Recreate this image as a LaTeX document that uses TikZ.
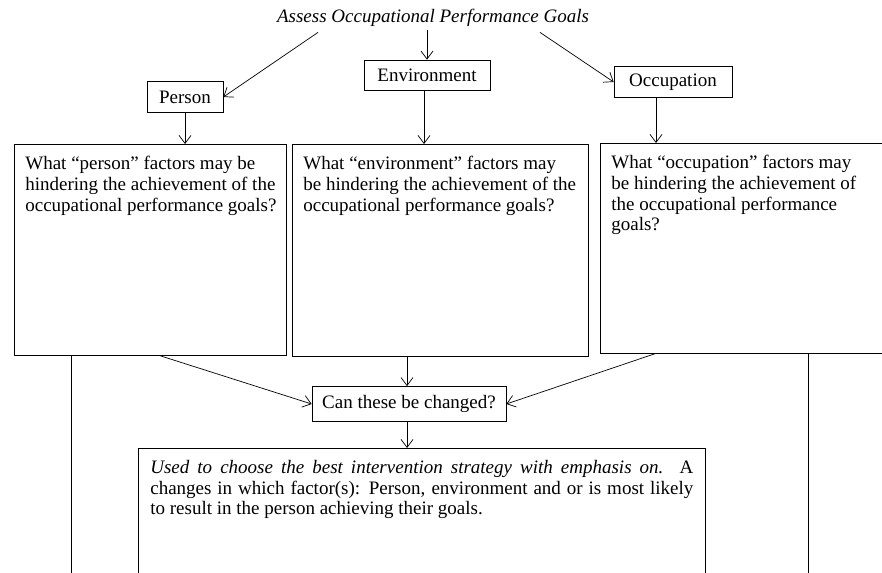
\documentclass[tikz,border=0pt]{standalone}
\usepackage{fontspec}
\setmainfont{Liberation Serif}
\usepackage{tikz}
\usetikzlibrary{positioning}
\usetikzlibrary{calc}
\usetikzlibrary{arrows.meta}

\begin{document}
\begin{tikzpicture}
  [
    x=1pt, y=-1pt,
    font=\fontsize{19}{20.7}\selectfont,
    line width=0.7pt,
    lbox/.style={
       draw=black,
       minimum height=31pt,
       inner sep=0pt
    },
    qbox/.style={
       draw=black,
       anchor=north west,
       inner sep=0pt
    },
    qtext/.style={
       anchor=north west,
       align=left,
       inner xsep=11pt,
       inner ysep=12pt
    },
    ld/.style={
       draw=black,
       -{Straight Barb[length=8pt,width=12pt,line width=0.7pt]}
    }
  ]
  \clip (0,0) rectangle (882,572);

  \node (title) at (433,18) {\itshape Assess Occupational Performance Goals};

  \node (person) at (185,97)  [lbox, minimum width=76pt]  {Person};
  \node (env)    at (427,75)  [lbox, minimum width=126pt, minimum height=30pt] {Environment};
  \node (occ)    at (673,82)  [lbox, minimum width=118pt] {Occupation};

  \node (pbox) at ( 14,144) [qbox, minimum width=272pt, minimum height=211pt] {};
  \node (ebox) at (292,144) [qbox, minimum width=296pt, minimum height=212pt] {};
  \node (obox) at (600,143) [qbox, minimum width=300pt, minimum height=210pt] {};

  \node (ptext) at (pbox.north west) [qtext]
        {What “person” factors may be\\hindering the achievement of the\\occupational performance goals?};
  \node (etext) at (ebox.north west) [qtext]
        {What “environment” factors may\\be hindering the achievement of the\\occupational performance goals?};
  \node (otext) at (obox.north west) [qtext]
        {What “occupation” factors may\\be hindering the achievement of\\the occupational performance\\goals?};

  \node (change) at (409,404) [lbox, minimum width=194pt, minimum height=35pt] {Can these be changed?};

  \node (usebox) at (138,448) [qbox, minimum width=567pt, minimum height=160pt] {};
  \node (usetext) at (usebox.north west) [qtext, inner xsep=12pt, text width=543pt, align=justify]
        {\itshape Used to choose the best intervention strategy with emphasis on.\upshape{} A\linebreak
         changes in which factor(s): Person, environment and or is most likely\linebreak
         to result in the person achieving their goals.};

  \draw [ld] ($(title.south)+(-115,2)$) -- (person.east);
  \draw [ld] (title.south -| env.north) -- (env.north);
  \draw [ld] ($(title.south)+(107,2)$) -- (occ.west);

  \draw [ld] (person.south) -- (person.south |- pbox.north);
  \draw [ld] ($(env.south)+(-3,0)$) -- ($(env.south |- ebox.north)+(-3,0)$);
  \draw [ld] ($(occ.south)+(-17,0)$) -- ($(occ.south |- obox.north)+(-17,0)$);

  \draw [ld] ($(pbox.south west)+(146,0)$) -- (change.west);
  \draw [ld] ($(change.north |- ebox.south)+(-2,0)$) -- ($(change.north)+(-2,0)$);
  \draw [ld] ($(obox.south west)+(55,0)$) -- (change.east);
  \draw [ld] ($(change.south)+(-2,0)$) -- ($(change.south |- usebox.north)+(-2,0)$);

  \draw ($(pbox.south west)+(57,0)$) -- ++(0,230);
  \draw ($(obox.south west)+(208,0)$) -- ++(0,230);
\end{tikzpicture}
\end{document}
